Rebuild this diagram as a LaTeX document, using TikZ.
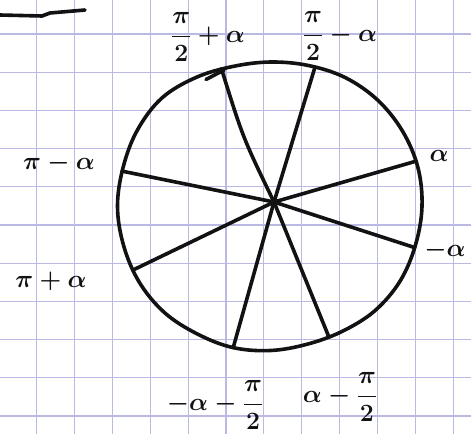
\documentclass[tikz,border=0pt]{standalone}
\usepackage{amsmath}
\definecolor{gridcol}{RGB}{185,185,228}
\definecolor{inkcol}{RGB}{18,18,18}
\tikzset{
  gridline/.style={draw=gridcol, line width=1.1pt},
  ink/.style={draw=inkcol, line width=3.6pt, line cap=round, line join=round},
  lab/.style={font=\fontsize{28}{32}\selectfont\boldmath, text=inkcol, inner sep=0pt}
}
\begin{document}
\begin{tikzpicture}[x=1pt,y=-1pt]
\useasboundingbox[fill=white] (0,0) rectangle (471,434);
% graph paper
\foreach \i in {0,...,11} \draw[gridline] ({36.5+37.9*\i},0) -- ({36.5+37.9*\i},434);
\foreach \j in {0,...,10} \draw[gridline] (0,{34+38.2*\j}) -- (471,{34+38.2*\j});
% stroke top left
\draw[ink] (0,15) -- (42,16) -- (50,13) -- (85,10);
% circle (hand-drawn, centred near (270.5,206.5))
\begin{scope}[shift={(270.5,206.5)}]
\draw[ink] plot[smooth cycle, tension=0.6] coordinates {
 (-180:153) (-165:152.5) (-150:153.5) (-135:153.5) (-120:149) (-105:145)
 (-90:144.5) (-75:146) (-60:149) (-45:151) (-30:152) (-15:152.5)
 (0:151.5) (15:150) (30:149.5) (45:147.5) (60:144) (75:142.5)
 (90:144) (105:146) (120:147) (135:150) (150:151.5) (165:152)};
\coordinate (hma) at (-72.3:146.5);
\coordinate (pa) at (-17.3:152.4);
\coordinate (ma) at (15.9:150);
\coordinate (amh) at (65.9:143.4);
\coordinate (mamh) at (104.8:146);
\coordinate (ppa) at (155.2:151.7);
\coordinate (pma) at (-166.6:152.6);
\coordinate (hpa) at (-109.6:146.3);
\end{scope}
\coordinate (c) at (274,202);
\draw[ink] (206,79.5) -- (224,70);
% spokes
\draw[ink] (c) .. controls (243,138) .. (hpa);
\draw[ink] (c) -- (hma);
\draw[ink] (c) -- (pa);
\draw[ink] (c) -- (ma);
\draw[ink] (c) -- (amh);
\draw[ink] (c) -- (mamh);
\draw[ink] (c) -- (ppa);
\draw[ink] (c) -- (pma);
\fill[inkcol] (c) circle (4);
% labels
\node[lab] (l1) at (208,37) {$\dfrac{\pi}{2}+\alpha$};
\node[lab] (l2) at (340,36) {$\dfrac{\pi}{2}-\alpha$};
\node[lab] (l3) at (439,156) {$\alpha$};
\node[lab] (l4) at (59,163) {$\pi-\alpha$};
\node[lab] (l5) at (445,250) {$-\alpha$};
\node[lab] (l6) at (51,281) {$\pi+\alpha$};
\node[lab] (l7) at (215,405) {$-\alpha-\dfrac{\pi}{2}$};
\node[lab] (l8) at (340,397) {$\alpha-\dfrac{\pi}{2}$};
\end{tikzpicture}
\end{document}
